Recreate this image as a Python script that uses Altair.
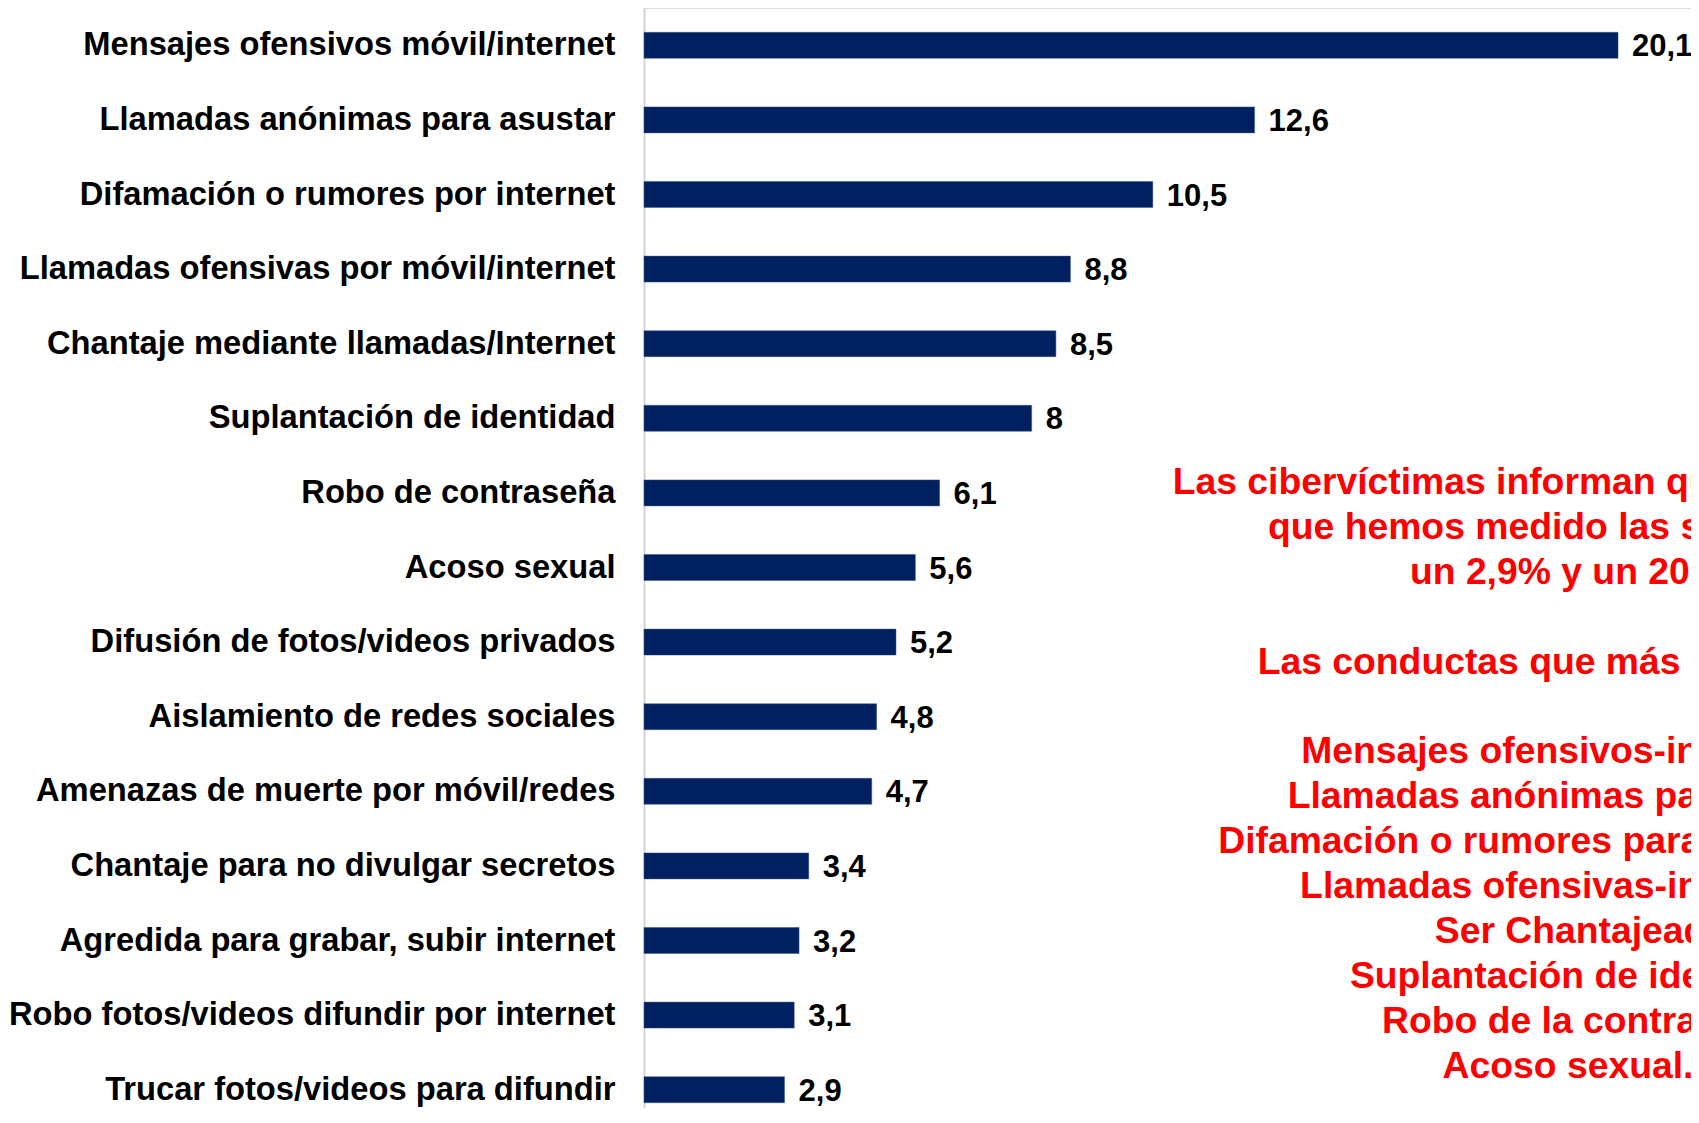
import altair as alt
import pandas as pd

categories = [
    "Mensajes ofensivos móvil/internet",
    "Llamadas anónimas para asustar",
    "Difamación o rumores por internet",
    "Llamadas ofensivas por móvil/internet",
    "Chantaje mediante llamadas/Internet",
    "Suplantación de identidad",
    "Robo de contraseña",
    "Acoso sexual",
    "Difusión de fotos/videos privados",
    "Aislamiento de redes sociales",
    "Amenazas de muerte por móvil/redes",
    "Chantaje para no divulgar secretos",
    "Agredida para grabar, subir internet",
    "Robo fotos/videos difundir por internet",
    "Trucar fotos/videos para difundir",
]
values = [20.1, 12.6, 10.5, 8.8, 8.5, 8, 6.1, 5.6, 5.2, 4.8, 4.7, 3.4, 3.2, 3.1, 2.9]

note_intro = [
    "Las cibervíctimas informan que las conductas",
    "que hemos medido las sufren entre",
    "un 2,9% y un 20,1%",
]
note_head = ["Las conductas que más han sufrido:"]
note_list = [
    "Mensajes ofensivos-insultantes",
    "Llamadas anónimas para asustar",
    "Difamación o rumores para desprestigiar",
    "Llamadas ofensivas-insultantes",
    "Ser Chantajeado",
    "Suplantación de identidad",
    "Robo de la contraseña",
]
note_last = ["Acoso sexual."]

df = pd.DataFrame({"cat": categories, "val": values})

FONT = "Liberation Sans"
W = 1047
H = 1100
LH = 44.9
Y0 = 486

y_enc = alt.Y(
    "cat:N",
    sort=categories,
    scale=alt.Scale(range=[0, 1119], paddingInner=0.652, paddingOuter=0.326),
    axis=alt.Axis(
        title=None,
        ticks=False,
        labelFont=FONT,
        labelFontSize=32.7,
        labelFontWeight="bold",
        labelColor="#000000",
        labelPadding=29,
        labelLimit=0,
        domainColor="#d4d4d4",
        domainWidth=2,
        grid=False,
    ),
)
x_enc = alt.X("val:Q", scale=alt.Scale(domain=[0, 21.606], nice=False, zero=True), axis=None)

base = alt.Chart(df)

bars = base.mark_bar(color="#002060", stroke="#3a5a90", strokeWidth=0.5).encode(x=x_enc, y=y_enc)

labels = base.transform_calculate(
    lab="replace(toString(datum.val), '.', ',')"
).mark_text(
    align="left", baseline="middle", dx=14, dy=2,
    font=FONT, fontSize=31, fontWeight="bold", color="#000000",
).encode(x=x_enc, y=y_enc, text="lab:N")


def note_block(lines, k, x=938):
    return alt.Chart(pd.DataFrame({"a": [0]})).mark_text(
        text=lines,
        align="center",
        baseline="alphabetic",
        lineHeight=LH,
        font=FONT,
        fontSize=37.3,
        fontWeight="bold",
        color="#ff0000",
    ).encode(x=alt.value(x), y=alt.value(Y0 + LH * k))


chart = alt.layer(
    bars, labels,
    note_block(note_intro, 0),
    note_block(note_head, 4),
    note_block(note_list, 6),
    note_block(note_last, 13, x=924),
).properties(
    width=W,
    height=H,
    autosize=alt.AutoSizeParams(type="none"),
    padding={"left": 636, "top": 0, "right": 0, "bottom": 0},
).configure_view(stroke=None).configure(background="white")

chart.save("out.html", embed_options={"renderer": "svg", "actions": False})
